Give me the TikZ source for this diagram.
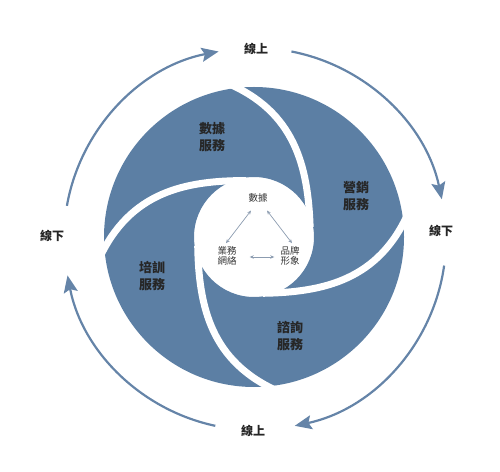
\documentclass[tikz,border=0pt]{standalone}
\usepackage{fontspec}
\usepackage{tikz}
\usetikzlibrary{arrows.meta}
\newfontfamily\cjk{Noto Sans CJK TC}
\definecolor{bladeblue}{HTML}{5C7FA4}
\definecolor{ringblue}{HTML}{6584A8}
\definecolor{linkgray}{HTML}{8C9CB0}
\tikzset{myblade/.style={fill=bladeblue,even odd rule},
mygap/.style={white,line width=7pt,shorten <=-12pt},
myring/.style={ringblue,line width=2.2pt,-{Stealth[length=17pt,width=14pt,inset=3pt]}},
mylink/.style={linkgray,line width=0.7pt,{Stealth[length=4pt,width=3.5pt]}-{Stealth[length=4pt,width=3.5pt]}},
myservice/.style={font=\cjk\bfseries\fontsize{13}{17}\selectfont,align=center,text=black!85,inner sep=0pt},
myside/.style={font=\cjk\bfseries\fontsize{12}{14}\selectfont,text=black!85,inner sep=1pt},
mycore/.style={font=\cjk\fontsize{9.5}{10.5}\selectfont,align=center,text=black!80,inner sep=1pt}}

\begin{document}
\begin{tikzpicture}[x=1pt,y=1pt]
\useasboundingbox (0,0) rectangle (500,471);

% swirl
\begin{scope}[shift={(254,234)}]
\fill[myblade] (0,0) circle[radius=150] (0,0) circle[radius=60];
\foreach \a in {96,5,-85,-176}{
\draw[mygap] (\a:150) to[out=\a-119,in=\a-4] (\a-86:57);
}
\end{scope}

% outer ring
\begin{scope}[shift={(255,232)}]
\foreach \s/\e in {170/101,79/12,-8/-78,-102/-169}{
\draw[myring] (\s:191) arc[start angle=\s,end angle=\e,radius=191];
}
\end{scope}

\node[myservice] (dataserv) at (212,334) {數據\\服務};
\node[myservice] (mktserv) at (356,275) {營銷\\服務};
\node[myservice] (trainserv) at (152,195) {培訓\\服務};
\node[myservice] (consserv) at (290,135) {諮詢\\服務};

\node[myside] (ontop) at (256,422) {線上};
\node[myside] (onbot) at (253,40) {線上};
\node[myside] (offleft) at (52,235) {線下};
\node[myside] (offright) at (441,240) {線下};

\node[mycore] (data) at (258,273) {數據};
\node[mycore] (net) at (227,215) {業務\\網絡};
\node[mycore] (brand) at (290,215) {品牌\\形象};
\draw[mylink] ([xshift=-7pt,yshift=-7pt]data.south) -- ([xshift=-1pt,yshift=2pt]net.north);
\draw[mylink] ([xshift=9pt,yshift=-7pt]data.south) -- ([xshift=2pt,yshift=2pt]brand.north);
\draw[mylink] ([xshift=12pt,yshift=-1pt]net.east) -- ([xshift=-5pt,yshift=-1pt]brand.west);
\end{tikzpicture}
\end{document}
